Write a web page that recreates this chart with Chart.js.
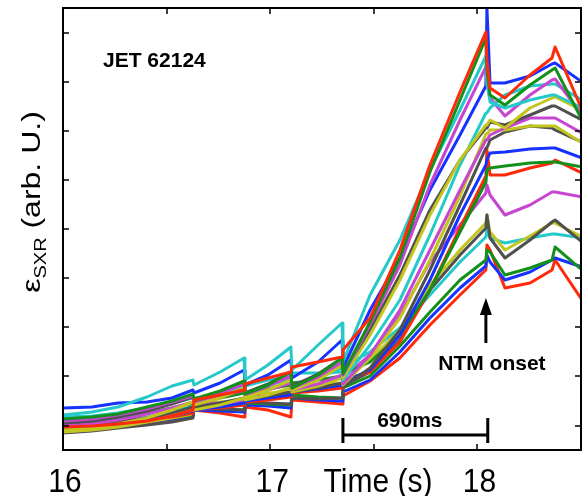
<!DOCTYPE html>
<html>
<head>
<meta charset="utf-8">
<title>JET 62124 - SXR emissivity</title>
<script src="https://cdn.jsdelivr.net/npm/chart.js@4.4.1/dist/chart.umd.min.js"></script>
<style>
  html, body { margin: 0; padding: 0; background: #fff; }
  #wrap { width: 583px; height: 496px; }
</style>
</head>
<body>
<div id="wrap"><canvas id="sxr" width="583" height="496"></canvas></div>
<script>
// sample times (s), shared by all chords
const time = [16.000, 16.140, 16.265, 16.405, 16.526, 16.627, 16.632, 16.758, 16.874, 16.878,
              16.989, 17.100, 17.105, 17.231, 17.347, 17.351, 17.482, 17.626, 17.771, 17.916,
              18.041, 18.046, 18.061, 18.133, 18.254, 18.360, 18.375, 18.505];

// SXR emissivity per chord (arb. U.)
const ch01 = [2.3, 2.4, 2.6, 2.9, 3.4, 4.0, 5.0, 5.5, 6.0, 6.6, 7.2, 7.8, 8.3, 8.8, 9.3, 10.0, 13.2, 20.0, 28.5, 35.8, 41.8, 39.0, 36.2, 35.2, 37.5, 39.2, 40.3, 34.0];
const ch02 = [3.1, 3.3, 3.6, 4.3, 4.9, 5.6, 5.1, 5.9, 6.9, 5.6, 6.5, 7.8, 6.2, 7.5, 9.2, 7.6, 12.8, 19.2, 27.8, 35.0, 41.2, 38.0, 35.5, 34.5, 36.5, 38.0, 38.2, 33.0];
const ch03 = [3.5, 3.8, 4.3, 5.3, 6.4, 7.0, 6.5, 7.8, 9.2, 7.0, 8.5, 10.3, 8.0, 10.5, 12.7, 8.8, 15.5, 21.0, 28.0, 34.0, 39.4, 37.0, 34.8, 34.2, 35.0, 35.5, 35.5, 34.2];
const ch04 = [2.9, 3.1, 3.5, 4.1, 4.8, 5.4, 5.0, 5.7, 6.6, 5.6, 6.4, 7.4, 6.2, 7.3, 8.8, 7.5, 12.5, 18.5, 26.5, 33.0, 38.3, 36.5, 35.2, 33.4, 35.5, 37.0, 37.1, 33.5];
const ch05 = [4.2, 4.3, 4.7, 4.8, 5.2, 6.0, 5.7, 6.7, 8.0, 6.5, 7.5, 9.0, 7.2, 8.8, 11.0, 8.2, 14.0, 19.2, 26.0, 31.5, 36.4, 44.2, 36.7, 36.7, 37.4, 38.6, 38.7, 36.8];
const ch06 = [2.0, 2.2, 2.6, 3.2, 4.0, 4.8, 4.5, 5.2, 6.2, 5.2, 6.0, 7.0, 6.0, 7.0, 8.5, 7.2, 11.5, 17.0, 23.5, 29.0, 32.5, 32.5, 33.0, 32.2, 34.2, 35.2, 35.3, 34.0];
const ch07 = [2.7, 2.9, 3.3, 3.9, 4.6, 5.3, 5.0, 5.8, 6.8, 5.7, 6.6, 7.8, 6.4, 7.6, 9.2, 7.5, 12.0, 17.5, 24.0, 29.0, 32.2, 32.2, 32.8, 32.5, 33.5, 34.4, 34.4, 33.0];
const ch08 = [3.3, 3.4, 3.7, 4.2, 4.7, 5.2, 5.0, 5.7, 6.4, 5.7, 6.4, 7.2, 6.4, 7.2, 8.2, 7.0, 10.5, 15.0, 21.5, 28.5, 33.7, 33.7, 34.2, 35.5, 36.4, 36.6, 36.6, 35.0];
const ch09 = [2.4, 2.6, 3.0, 3.6, 4.2, 4.8, 4.6, 5.3, 6.0, 5.4, 6.0, 6.7, 6.0, 6.6, 7.5, 6.6, 9.5, 14.0, 20.0, 26.0, 31.0, 31.0, 31.5, 32.2, 33.2, 33.2, 33.2, 31.7];
const ch10 = [1.8, 2.0, 2.3, 2.8, 3.4, 4.0, 4.0, 4.5, 5.2, 5.0, 5.5, 6.2, 5.8, 6.4, 7.2, 6.5, 9.2, 13.2, 19.0, 25.4, 31.6, 31.6, 32.0, 32.0, 32.4, 32.4, 32.4, 30.7];
const ch11 = [2.5, 2.6, 2.8, 3.2, 3.7, 4.3, 4.3, 4.7, 5.2, 5.1, 5.4, 5.8, 5.8, 6.2, 6.7, 6.3, 8.2, 12.0, 18.0, 24.5, 30.2, 30.2, 31.0, 31.8, 32.4, 32.2, 32.0, 30.8];
const ch12 = [2.3, 2.4, 2.6, 3.0, 3.4, 3.9, 4.0, 4.3, 4.7, 4.9, 5.2, 5.5, 5.8, 6.1, 6.5, 6.8, 8.0, 11.5, 17.0, 23.5, 28.5, 29.0, 29.7, 29.8, 30.1, 30.2, 30.2, 29.2];
const ch13 = [2.8, 2.9, 3.2, 3.7, 4.2, 4.7, 4.8, 5.2, 5.7, 5.8, 6.1, 6.5, 6.7, 7.0, 7.4, 7.6, 8.8, 11.5, 16.0, 21.8, 26.8, 28.0, 28.2, 28.4, 28.7, 28.8, 28.8, 28.3];
const ch14 = [2.4, 2.5, 2.7, 3.0, 3.3, 3.7, 4.0, 4.2, 4.5, 4.8, 5.0, 5.3, 5.7, 5.9, 6.2, 7.0, 7.8, 10.8, 16.0, 22.2, 27.4, 30.0, 27.5, 27.5, 28.2, 28.7, 29.0, 27.7];
const ch15 = [2.6, 2.7, 2.9, 3.2, 3.6, 4.0, 4.6, 4.7, 4.8, 5.4, 5.4, 5.6, 6.2, 6.2, 6.4, 7.2, 9.5, 13.5, 18.8, 22.5, 25.7, 26.5, 25.5, 23.5, 24.5, 25.8, 25.8, 25.3];
const ch16 = [1.7, 1.9, 2.2, 2.5, 2.8, 3.2, 4.2, 4.1, 4.0, 4.8, 4.7, 4.6, 5.2, 5.1, 5.2, 6.4, 7.8, 11.0, 16.0, 19.5, 22.2, 23.5, 21.2, 19.2, 21.0, 22.8, 23.0, 20.8];
const ch17 = [1.8, 2.0, 2.3, 2.8, 3.2, 3.6, 4.8, 4.8, 5.0, 5.7, 5.7, 5.8, 6.6, 6.6, 6.7, 7.6, 9.0, 12.0, 16.5, 20.0, 22.7, 23.5, 21.8, 20.0, 21.4, 22.7, 22.7, 21.3];
const ch18 = [2.5, 2.6, 2.9, 3.3, 3.8, 4.4, 5.2, 5.4, 5.7, 6.4, 7.0, 7.3, 7.7, 7.7, 7.8, 8.3, 9.8, 12.2, 15.5, 18.8, 21.3, 22.0, 21.2, 20.7, 21.2, 21.6, 21.6, 21.2];
const ch19 = [2.2, 2.3, 2.5, 2.9, 3.2, 3.5, 4.2, 4.1, 4.0, 4.7, 4.6, 4.5, 5.5, 5.3, 5.2, 6.2, 7.4, 10.4, 13.8, 17.0, 19.0, 20.0, 19.8, 17.5, 18.2, 19.0, 20.3, 18.0];
const ch20 = [2.3, 2.3, 2.5, 2.8, 3.1, 3.4, 4.0, 3.9, 3.8, 4.5, 4.4, 4.2, 5.2, 5.0, 4.9, 5.8, 7.0, 9.8, 13.2, 16.2, 18.4, 19.5, 18.8, 17.0, 17.8, 19.0, 19.2, 18.3];
const ch21 = [2.0, 2.1, 2.3, 2.6, 2.9, 3.3, 4.0, 3.7, 3.3, 4.3, 4.0, 3.3, 5.0, 4.8, 4.6, 5.4, 6.9, 9.2, 12.5, 15.5, 18.0, 20.5, 20.0, 16.2, 16.7, 18.0, 19.0, 15.0];

const channels = [ch01, ch02, ch03, ch04, ch05, ch06, ch07, ch08, ch09, ch10, ch11,
                  ch12, ch13, ch14, ch15, ch16, ch17, ch18, ch19, ch20, ch21];

const RED = '#ff2a0a', GREEN = '#12901a', CYAN = '#26c9c9', MAGENTA = '#c646d2',
      BLUE = '#1632ff', YELLOW = '#c2c61c', GRAY = '#505050';
const channelColors = [RED, GREEN, CYAN, MAGENTA, BLUE, YELLOW, GRAY, CYAN, MAGENTA, YELLOW, GRAY,
                       BLUE, GREEN, RED, MAGENTA, GRAY, YELLOW, CYAN, GREEN, BLUE, RED];

const xTicks = [16.5, 17, 17.5, 18];
const xLabels = [16, 17, 18];
const yTicks = [2.45, 7.36, 12.27, 17.18, 22.09, 27.0, 31.91, 36.82, 41.73];

const FONT = '"Liberation Sans", Arial, Helvetica, sans-serif';

// box, inward ticks, labels and the NTM annotations
const framePlugin = {
    id: 'frame',
    afterDatasetsDraw(chart) {
        const { ctx, chartArea: a } = chart;
        const x = chart.scales.x, y = chart.scales.y;
        ctx.save();
        ctx.strokeStyle = '#000';
        ctx.fillStyle = '#000';

        ctx.lineWidth = 2;
        ctx.strokeRect(a.left, a.top, a.right - a.left, a.bottom - a.top);

        ctx.lineWidth = 1.5;
        ctx.beginPath();
        xTicks.forEach(v => {
            const px = Math.round(x.getPixelForValue(v));
            ctx.moveTo(px, a.bottom); ctx.lineTo(px, a.bottom - 6);
            ctx.moveTo(px, a.top); ctx.lineTo(px, a.top + 6);
        });
        yTicks.forEach(v => {
            const py = Math.round(y.getPixelForValue(v));
            ctx.moveTo(a.left, py); ctx.lineTo(a.left + 6, py);
            ctx.moveTo(a.right, py); ctx.lineTo(a.right - 6, py);
        });
        ctx.stroke();

        // x tick labels + axis title
        ctx.textAlign = 'center';
        ctx.textBaseline = 'alphabetic';
        ctx.font = '30px ' + FONT;
        const labelAt = (text, px) => {
            ctx.save();
            ctx.translate(px, 492);
            ctx.scale(1, 1.1);
            ctx.fillText(text, 0, 0);
            ctx.restore();
        };
        xLabels.forEach(v => labelAt(String(v), x.getPixelForValue(v) + 2));
        labelAt('Time (s)', x.getPixelForValue(17.52));

        // y axis title with subscript
        ctx.save();
        ctx.translate(40, 202);
        ctx.rotate(-Math.PI / 2);
        ctx.scale(1, 0.8);
        ctx.textAlign = 'left';
        const big = '32px ' + FONT, small = '20px ' + FONT;
        ctx.font = big;
        const wE = ctx.measureText('ε').width;
        const wR = ctx.measureText(' (arb. U.)').width;
        ctx.font = small;
        const wS = ctx.measureText('SXR').width;
        let cx = -(wE + wS + wR) / 2;
        ctx.font = big;
        ctx.fillText('ε', cx, 0);
        cx += wE;
        ctx.font = small;
        ctx.fillText('SXR', cx, 8);
        cx += wS;
        ctx.font = big;
        ctx.fillText(' (arb. U.)', cx, 0);
        ctx.restore();

        // annotations
        ctx.font = 'bold 21px ' + FONT;
        ctx.textAlign = 'left';
        ctx.fillText('JET 62124', x.getPixelForValue(16.193), y.getPixelForValue(38.3));
        ctx.textAlign = 'center';
        ctx.fillText('NTM onset', x.getPixelForValue(18.07), y.getPixelForValue(8.0));
        ctx.fillText('690ms', x.getPixelForValue(17.674), y.getPixelForValue(2.3));

        // arrow at the NTM onset
        const ax = x.getPixelForValue(18.041);
        const tip = y.getPixelForValue(15.2), neck = y.getPixelForValue(13.5), tail = y.getPixelForValue(10.7);
        ctx.lineWidth = 3;
        ctx.beginPath();
        ctx.moveTo(ax, neck); ctx.lineTo(ax, tail);
        ctx.stroke();
        ctx.beginPath();
        ctx.moveTo(ax, tip); ctx.lineTo(ax - 6, neck); ctx.lineTo(ax + 6, neck);
        ctx.closePath();
        ctx.fill();

        // 690 ms bar between last sawtooth crash and onset
        const b0 = x.getPixelForValue(17.351), b1 = x.getPixelForValue(18.05);
        const by = y.getPixelForValue(1.5), cTop = y.getPixelForValue(3.2), cBot = y.getPixelForValue(0.7);
        ctx.beginPath();
        ctx.moveTo(b0, by); ctx.lineTo(b1, by);
        ctx.moveTo(b0, cTop); ctx.lineTo(b0, cBot);
        ctx.moveTo(b1, cTop); ctx.lineTo(b1, cBot);
        ctx.stroke();

        ctx.restore();
    }
};

new Chart(document.getElementById('sxr'), {
    type: 'line',
    data: {
        datasets: channels.map((vals, i) => ({
            label: 'chord ' + (i + 1),
            data: time.map((t, k) => ({ x: t, y: vals[k] })),
            borderColor: channelColors[i],
            borderWidth: 3,
            borderJoinStyle: 'round',
            borderCapStyle: 'round',
            pointRadius: 0,
            tension: 0,
            fill: false
        }))
    },
    options: {
        responsive: false,
        animation: false,
        devicePixelRatio: 1,
        layout: { padding: { left: 63, top: 8, right: 2, bottom: 46 } },
        plugins: {
            legend: { display: false },
            tooltip: { enabled: false }
        },
        scales: {
            x: { type: 'linear', min: 16, max: 18.5, display: false },
            y: { type: 'linear', min: 0, max: 44.2, display: false }
        }
    },
    plugins: [framePlugin]
});
</script>
</body>
</html>
